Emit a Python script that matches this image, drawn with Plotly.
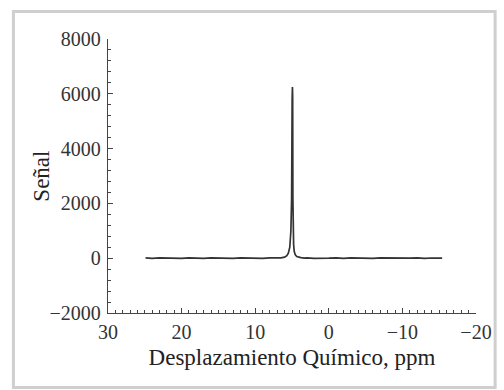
import plotly.graph_objects as go

# Chemical shift (ppm) and signal values
shift_ppm = [24.9, 24.0, 23.0, 22.0, 21.0, 20.0, 19.0, 18.0, 17.0, 16.0, 15.0,
             14.0, 13.0, 12.0, 11.0, 10.0, 9.0, 8.0, 7.0, 6.5, 6.0, 5.7, 5.5,
             5.3, 5.15, 5.05, 4.98, 4.94, 4.91, 4.88, 4.84, 4.78, 4.7, 4.55,
             4.35, 4.1, 3.8, 3.3, 3.0, 2.0, 1.0, 0.0, -1.0, -2.0, -3.0, -4.0,
             -5.0, -6.0, -7.0, -8.0, -9.0, -10.0, -11.0, -12.0, -13.0, -14.0,
             -15.0, -15.4]
signal = [10, -5, 15, 0, 12, -8, 10, 3, -10, 15, 0,
          8, -5, 12, 0, 10, -3, 15, 5, 15, 40, 90, 180,
          400, 1000, 2200, 5800, 6250, 5900, 2200, 1100, 500, 250, 120,
          60, 35, 20, 5, 15, -5, 10, 0, 12, -8, 10, 0,
          15, -5, 10, 3, -8, 12, 0, 10, -5, 8,
          3, 5]

x_ticks = [30, 20, 10, 0, -10, -20]
x_tick_labels = ["30", "20", "10", "0", "\u221210", "\u221220"]
y_ticks = [-2000, 0, 2000, 4000, 6000, 8000]
y_tick_labels = ["\u22122000", "0", "2000", "4000", "6000", "8000"]

fig = go.Figure()
fig.add_trace(go.Scatter(x=shift_ppm, y=signal, mode="lines",
                         line=dict(color="#333333", width=1.7),
                         showlegend=False))

family = "Times New Roman, Liberation Serif, DejaVu Serif, serif"
tick_font = dict(family=family, size=20, color="#333333")
title_font = dict(family=family, size=23, color="#222222")

fig.update_layout(
    width=504, height=390,
    margin=dict(l=108, r=22, t=39, b=77),
    paper_bgcolor="white", plot_bgcolor="white",
    font=tick_font,
    xaxis=dict(range=[30, -20], tickvals=x_ticks, ticktext=x_tick_labels,
               showgrid=False, zeroline=False, showline=True,
               linecolor="#444444", linewidth=1.3, ticks="inside",
               ticklen=5, tickcolor="#444444", ticklabelstandoff=1,
               minor=dict(dtick=1, ticks="inside", ticklen=2.5,
                          tickcolor="#444444", showgrid=False),
               title=dict(text="Desplazamiento Qu\u00edmico, ppm", standoff=6,
                          font=title_font),
               tickfont=tick_font),
    yaxis=dict(range=[-2000, 8000], tickvals=y_ticks, ticktext=y_tick_labels,
               showgrid=False, zeroline=False, showline=True,
               linecolor="#444444", linewidth=1.3, ticks="inside",
               ticklen=5, tickcolor="#444444", ticklabelstandoff=2,
               minor=dict(dtick=400, ticks="inside", ticklen=2.5,
                          tickcolor="#444444", showgrid=False),
               tickfont=tick_font),
    annotations=[dict(text="Se\u00f1al", xref="paper", yref="paper",
                      x=-0.183, y=0.5, textangle=-90, showarrow=False,
                      font=title_font, xanchor="center", yanchor="middle")],
)

# Light grey frame around the figure
fig.add_shape(type="rect", xref="paper", yref="paper",
              x0=-0.257, x1=1.052, y0=-0.272, y1=1.10,
              line=dict(color="#cfcfcf", width=3), layer="below")

fig.write_html("out.html")
